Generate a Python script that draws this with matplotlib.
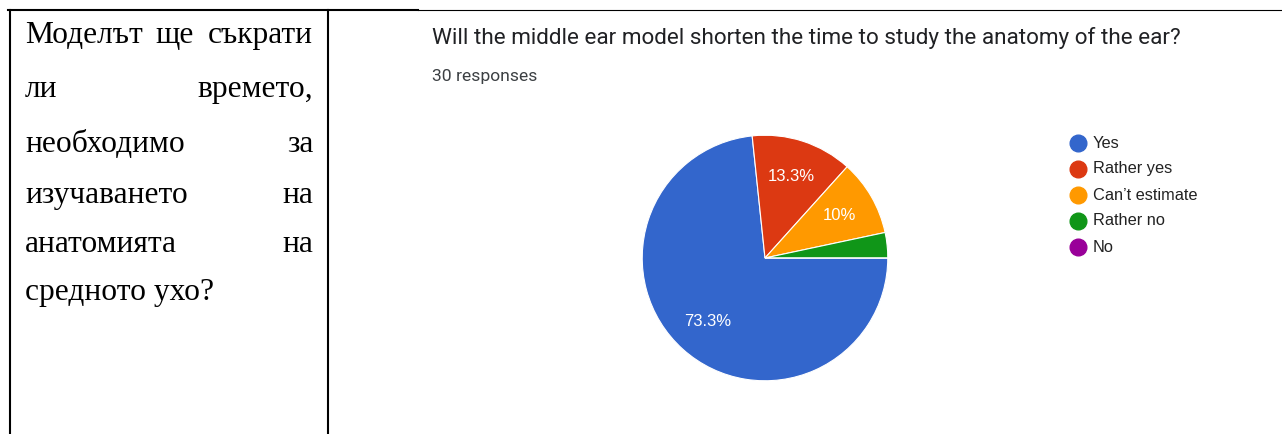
import matplotlib.pyplot as plt
from matplotlib.lines import Line2D

# survey answers (30 responses)
answers = ['Yes', 'Rather yes', 'Can’t estimate', 'Rather no', 'No']
counts = [22, 4, 3, 1, 0]
colors = ['#3366cc', '#dc3912', '#ff9900', '#109618', '#990099']

title = 'Will the middle ear model shorten the time to study the anatomy of the ear?'
subtitle = '30 responses'

# left table cell, one justified line per entry (words spread across the cell)
cell_lines = [['Моделът', 'ще', 'съкрати'],
              ['ли', 'времето,'],
              ['необходимо', 'за'],
              ['изучаването', 'на'],
              ['анатомията', 'на'],
              ['средното ухо?']]
line_base = [43, 97, 152, 203, 252, 300]

W, H = 1282, 434
fig = plt.figure(figsize=(W / 100, H / 100), dpi=100)


def fx(px):
    return px / W


def fy(py):
    return 1 - py / H


# table borders
fig.add_artist(Line2D([fx(8), fx(418)], [fy(10), fy(10)], color='black', lw=1.5))
fig.add_artist(Line2D([fx(418), fx(1281)], [fy(9.5), fy(9.5)], color='black', lw=0.8))
fig.add_artist(Line2D([fx(10), fx(10)], [fy(10), 0], color='black', lw=1.5))
fig.add_artist(Line2D([fx(328), fx(328)], [fy(10), 0], color='black', lw=1.5))

serif = ['Liberation Serif', 'DejaVu Serif']
for words, y in zip(cell_lines, line_base):
    kw = dict(family=serif, fontsize=22.7, va='baseline')
    fig.text(fx(25), fy(y), words[0], ha='left', **kw)
    if len(words) == 3:
        fig.text(fx(155), fy(y), words[1], ha='left', **kw)
        fig.text(fx(313), fy(y), words[2], ha='right', **kw)
    elif len(words) == 2:
        fig.text(fx(313), fy(y), words[1], ha='right', **kw)

# header of the form screenshot
fig.text(fx(432), fy(38), title, family='Roboto', fontsize=16.2, color='#202124',
         va='center', ha='left')
fig.text(fx(432), fy(76), subtitle, family='Roboto', fontsize=12.6, color='#3c4043',
         va='center', ha='left')

# pie
cx, cy, r = 765, 258, 124
ax = fig.add_axes([fx(cx - r), fy(cy + r), 2 * r / W, 2 * r / H])


def pct(p):
    return '%.1f%%' % p if p >= 12 else ('%.0f%%' % p if p >= 5 else '')


wedges, texts, autotexts = ax.pie(counts, colors=colors, startangle=0, counterclock=False,
                                  autopct=pct, pctdistance=0.7, radius=1,
                                  wedgeprops=dict(edgecolor='white', linewidth=0.8))
for t in autotexts:
    t.set_color('white')
    t.set_fontsize(12)
    t.set_family(['Liberation Sans', 'DejaVu Sans'])
ax.set_xlim(-1.01, 1.01)
ax.set_ylim(-1.01, 1.01)
ax.axis('off')

# legend
for i, (name, c) in enumerate(zip(answers, colors)):
    y = 143 + i * 26
    fig.add_artist(Line2D([fx(1078)], [fy(y)], marker='o', markersize=12,
                          markerfacecolor=c, markeredgecolor=c, linestyle='none'))
    fig.text(fx(1093), fy(y), name, family=['Liberation Sans', 'DejaVu Sans'],
             fontsize=11.75, color='#222222', va='center', ha='left')

fig.savefig('out.png', dpi=100)
